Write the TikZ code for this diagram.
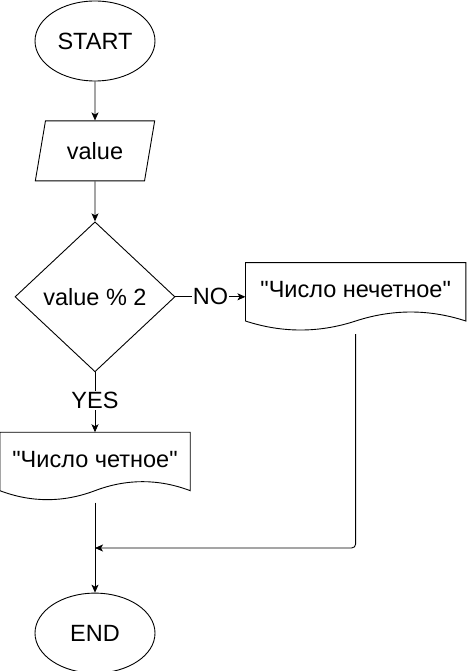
\documentclass[tikz,border=0pt]{standalone}
\usepackage{fontspec}
\setmainfont{Liberation Sans}
\usetikzlibrary{arrows.meta,positioning,shapes.geometric,calc}

\newcommand{\docoutline}[1]{%
  \draw[line] (#1.north west) -- (#1.north east) -- (#1.south east)
    .. controls ($(#1.south west)!0.8333!(#1.south east)+(0,12pt)$) and ($(#1.south west)!0.6667!(#1.south east)+(0,12pt)$) .. (#1.south)
    .. controls ($(#1.south west)!0.3333!(#1.south east)+(0,-12pt)$) and ($(#1.south west)!0.1667!(#1.south east)+(0,-12pt)$) .. (#1.south west) -- cycle;}
\newcommand{\quoted}[1]{\raisebox{5pt}{\textquotedbl#1\textquotedbl}}

\begin{document}
\begin{tikzpicture}[
  x=1pt, y=1pt,
  line/.style={draw=black, line width=0.9pt},
  base/.style={line, inner sep=0pt, font=\fontsize{23.5}{28}\selectfont},
  terminal/.style={base, ellipse, minimum width=120pt, minimum height=80pt},
  io/.style={base, trapezium, trapezium stretches=true, trapezium left angle=71.57,
    trapezium right angle=108.43, minimum width=120pt, minimum height=60pt},
  test/.style={base, diamond, minimum width=160pt, minimum height=150pt},
  doc/.style={inner sep=0pt, font=\fontsize{23.5}{28}\selectfont, minimum height=58pt},
  lbl/.style={fill=white, inner sep=1pt, font=\fontsize{23.5}{28}\selectfont},
  arrow/.style={line, -{Stealth[length=8pt,width=7pt,inset=2pt]}}
]
\useasboundingbox (0,0) rectangle (466,-671);

\node[terminal] (start) at (95,-41) {START};
\node[io, below=39pt of start] (input) {value};
\node[test, below=40pt of input] (check) {value \% 2};
\node[doc, minimum width=190pt, below=60pt of check] (even) {\quoted{Число четное}};
\node[doc, minimum width=220pt, right=70pt of check, yshift=5pt] (odd) {\quoted{Число нечетное}};
\node[terminal, below=102pt of even] (finish) {END};
\coordinate (join) at (95,-548);

\docoutline{even}
\docoutline{odd}

\draw[arrow] (start) -- (input);
\draw[arrow] (input) -- (check);
\draw[arrow] (check.east) -- node[lbl] {NO} (check.east -| odd.west);
\draw[arrow] (check.south) -- node[lbl, yshift=2pt] {YES} (even.north);
\draw[arrow, rounded corners=4pt] ([yshift=-13pt]odd.south) |- (join);
\draw[arrow] ([yshift=-12pt]even.south) -- (finish.north);
\end{tikzpicture}
\end{document}
